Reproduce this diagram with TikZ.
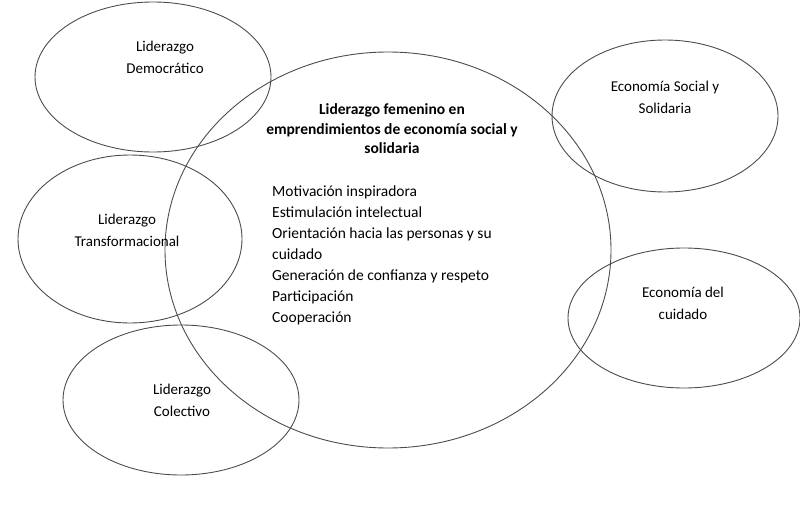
\documentclass[tikz,border=0pt]{standalone}
\usepackage{fontspec}
\setmainfont{Carlito}
\begin{document}
\begin{tikzpicture}[x=1pt,y=-1pt,
  ell/.style={draw=black!70,line width=0.9pt},
  lbl/.style={font=\fontsize{15}{22}\selectfont,align=center}]
\useasboundingbox (0,0) rectangle (800,508);
\draw[ell] (388,250) ellipse [x radius=223,y radius=198];
\draw[ell] (153,77) ellipse [x radius=118,y radius=75];
\draw[ell] (130,239) ellipse [x radius=112,y radius=84];
\draw[ell] (181,400) ellipse [x radius=118,y radius=75];
\draw[ell] (665,116) ellipse [x radius=113,y radius=76];
\draw[ell] (684,318) ellipse [x radius=116,y radius=70];
\node[lbl] (a) at (165,57) {Liderazgo\\Democrático};
\node[lbl] (b) at (127,230) {Liderazgo\\Transformacional};
\node[lbl] (c) at (182,400) {Liderazgo\\Colectivo};
\node[lbl] (d) at (665,97) {Economía Social y\\Solidaria};
\node[lbl] (e) at (683,303) {Economía del\\cuidado};
\node[lbl,font=\bfseries\fontsize{15.5}{19.5}\selectfont] (t) at (392,129) {Liderazgo femenino en\\emprendimientos de economía social y\\solidaria};
\node[font=\fontsize{15.5}{21}\selectfont,align=left,anchor=north west,inner sep=0pt] (l) at (272,186) {Motivación inspiradora\\Estimulación intelectual\\Orientación hacia las personas y su\\cuidado\\Generación de confianza y respeto\\Participación\\Cooperación};
\end{tikzpicture}
\end{document}
